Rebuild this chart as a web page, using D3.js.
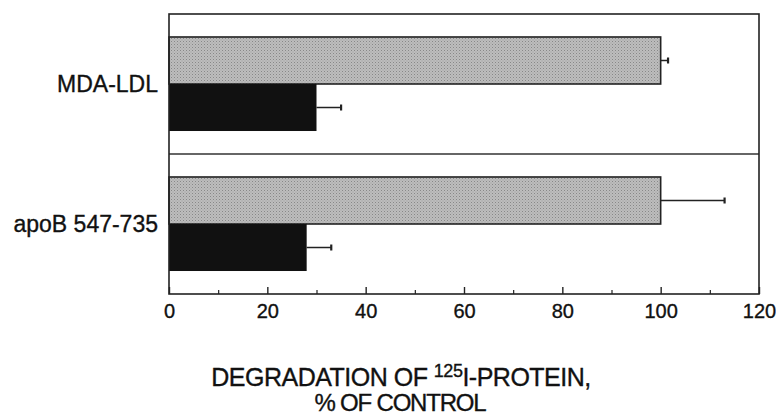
<!DOCTYPE html>
<html>
<head>
<meta charset="utf-8">
<script src="https://cdn.jsdelivr.net/npm/d3@7/dist/d3.min.js"></script>
<style>
  html, body { margin: 0; padding: 0; background: #fff; }
  svg { display: block; }
  text { font-family: "Liberation Sans", Arial, Helvetica, sans-serif; fill: #111; stroke: #111; stroke-width: 0.35px; }
</style>
</head>
<body>
<svg id="chart" width="776" height="416"></svg>
<script>
// ---- data ----
const categories = ["MDA-LDL", "apoB 547-735"];
const series = ["control", "treated"];
const controlValues = [100, 100];
const controlErrors = [1.5, 13];
const treatedValues = [30, 28];
const treatedErrors = [5, 5];
const majorTicks = [0, 20, 40, 60, 80, 100, 120];
const minorTicks = [10, 30, 50, 70, 90, 110];

(function () {
const svg = d3.select("#chart");

// pattern for stippled gray
const defs = svg.append("defs");
const pat = defs.append("pattern").attr("id", "stipple")
  .attr("width", 3).attr("height", 3).attr("patternUnits", "userSpaceOnUse");
pat.append("rect").attr("width", 3).attr("height", 3).attr("fill", "#bdbdbd");
pat.append("rect").attr("x", 0).attr("y", 0).attr("width", 1).attr("height", 1).attr("fill", "#888");
pat.append("rect").attr("x", 1.5).attr("y", 1.5).attr("width", 1).attr("height", 1).attr("fill", "#9c9c9c");

const pL = 169, pR = 759, pT = 14, pB = 294;
const x = d3.scaleLinear().domain([0, 120]).range([pL, pR]);
const y = d3.scaleBand().domain(categories).range([pT, pB]).paddingInner(0).paddingOuter(0);
const yInner = d3.scaleBand().domain(series).range([0, y.bandwidth()]).paddingInner(0).paddingOuter(0.489);

const rows = categories.map((c, i) => ({
  cat: c,
  bars: [
    { s: "control", v: controlValues[i], e: controlErrors[i] },
    { s: "treated", v: treatedValues[i], e: treatedErrors[i] }
  ]
}));

const fill = { control: "url(#stipple)", treated: "#111" };

const g = svg.append("g");
const groups = g.selectAll("g.row").data(rows).join("g")
  .attr("transform", d => `translate(0,${y(d.cat)})`);

// error bars
groups.each(function (d) {
  const sel = d3.select(this);
  d.bars.forEach(b => {
    const cy = yInner(b.s) + yInner.bandwidth() / 2;
    sel.append("line")
      .attr("x1", x(b.v)).attr("x2", x(b.v + b.e))
      .attr("y1", cy).attr("y2", cy)
      .attr("stroke", "#222").attr("stroke-width", 1.5);
    sel.append("line")
      .attr("x1", x(b.v + b.e)).attr("x2", x(b.v + b.e))
      .attr("y1", cy - 3).attr("y2", cy + 3)
      .attr("stroke", "#222").attr("stroke-width", 2.2);
  });
});

groups.selectAll("rect.bar").data(d => d.bars).join("rect")
  .attr("class", "bar")
  .attr("x", x(0))
  .attr("y", b => yInner(b.s))
  .attr("width", b => x(b.v) - x(0))
  .attr("height", yInner.bandwidth())
  .attr("fill", b => fill[b.s])
  .attr("stroke", b => b.s === "control" ? "#222" : "none")
  .attr("stroke-width", 1.6);

// divider between groups
g.append("line")
  .attr("x1", pL).attr("x2", pR)
  .attr("y1", y(categories[1])).attr("y2", y(categories[1]))
  .attr("stroke", "#333").attr("stroke-width", 1.3);

// frame
g.append("rect")
  .attr("x", pL).attr("y", pT)
  .attr("width", pR - pL).attr("height", pB - pT)
  .attr("fill", "none").attr("stroke", "#222").attr("stroke-width", 1.6);

// category labels
g.selectAll("text.cat").data(categories).join("text")
  .attr("class", "cat")
  .attr("x", 158)
  .attr("y", c => y(c) + y.bandwidth() / 2)
  .attr("dy", "0.35em")
  .attr("text-anchor", "end")
  .attr("font-size", 23)
  .text(c => c);

// x axis
const axis = d3.axisBottom(x).tickValues(majorTicks).tickSize(-7).tickPadding(0).tickFormat(d3.format("d"));
const ax = svg.append("g").attr("transform", `translate(0,${pB})`).call(axis);
ax.select(".domain").remove();
ax.selectAll(".tick line").attr("stroke", "#222").attr("stroke-width", 1.4);
ax.selectAll(".tick text").attr("font-size", 20).attr("y", 24).attr("dy", 0)
  .attr("font-family", "'Liberation Sans', Arial, sans-serif").attr("fill", "#111");
const axMinor = d3.axisBottom(x).tickValues(minorTicks).tickSize(-4).tickFormat("");
const axm = svg.append("g").attr("transform", `translate(0,${pB})`).call(axMinor);
axm.select(".domain").remove();
axm.selectAll(".tick line").attr("stroke", "#222").attr("stroke-width", 1.2);

// axis title
const t1 = svg.append("text").attr("x", 401).attr("y", 386).attr("text-anchor", "middle")
  .attr("font-size", 25).attr("letter-spacing", -0.5);
t1.append("tspan").text("DEGRADATION OF ");
t1.append("tspan").attr("font-size", 18).attr("dy", -9).text("125");
t1.append("tspan").attr("dy", 9).text("I-PROTEIN,");
svg.append("text").attr("x", 400).attr("y", 411).attr("text-anchor", "middle")
  .attr("font-size", 24).attr("letter-spacing", -1.2).text("% OF CONTROL");
})();
</script>
</body>
</html>
